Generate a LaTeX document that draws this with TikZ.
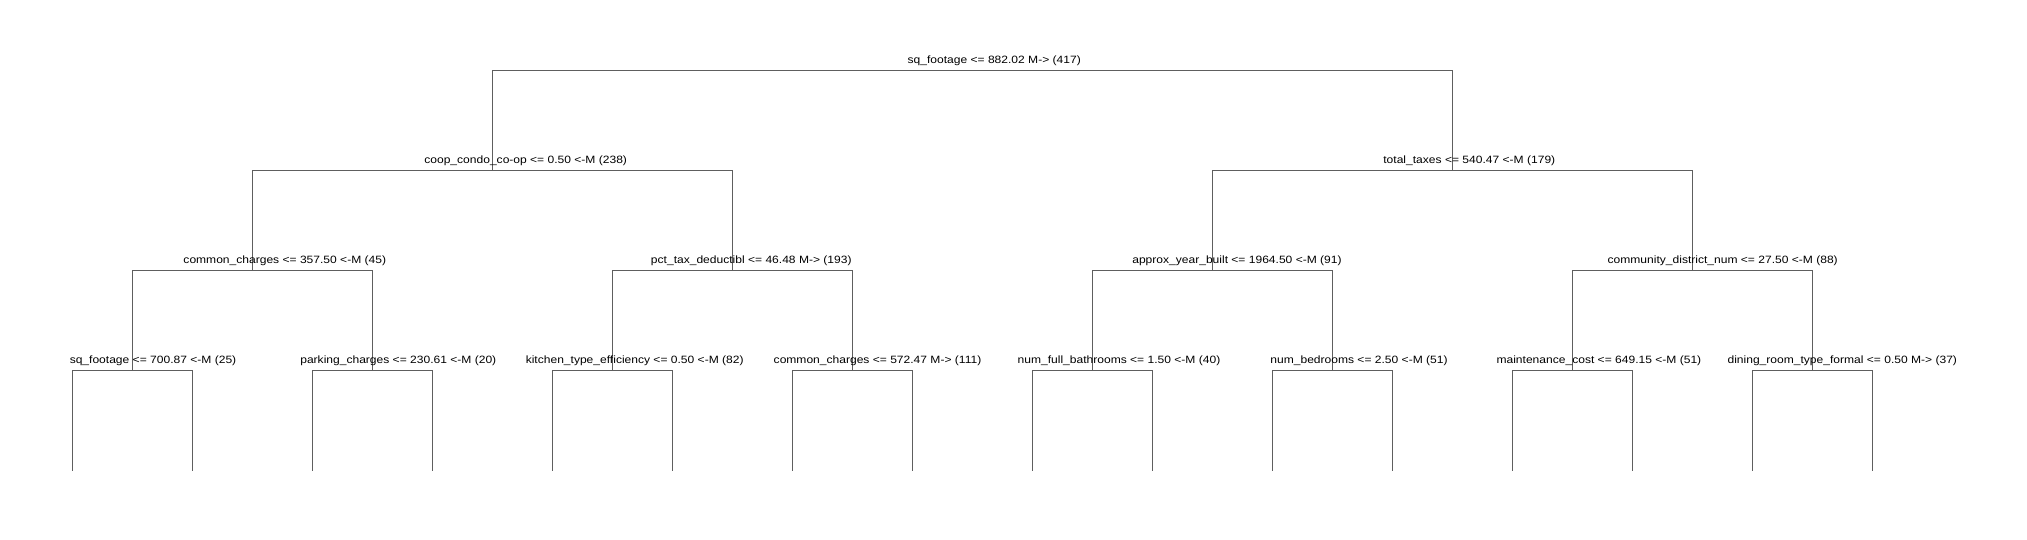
\documentclass[tikz,border=0pt]{standalone}
\usepackage{fontspec}
\setmainfont{Liberation Sans}[FakeStretch=1.137]
\begin{document}
\begin{tikzpicture}[x=1pt,y=-1pt,
  edge/.style={draw=black!63,line width=1pt},
  lbl/.style={anchor=base,inner sep=0pt,font=\fontsize{10.6}{12}\selectfont,text=black}]
\useasboundingbox[fill=white] (0,0) rectangle (2027,540);
% split points
\coordinate (r) at (972.3,70.3);
\coordinate (a) at (492.3,170.3);
\coordinate (b) at (1452.3,170.3);
\coordinate (aa) at (252.3,270.3);
\coordinate (ab) at (732.3,270.3);
\coordinate (ba) at (1212.3,270.3);
\coordinate (bb) at (1692.3,270.3);
\coordinate (aaa) at (132.3,370.3);
\coordinate (aab) at (372.3,370.3);
\coordinate (aba) at (612.3,370.3);
\coordinate (abb) at (852.3,370.3);
\coordinate (baa) at (1092.3,370.3);
\coordinate (bab) at (1332.3,370.3);
\coordinate (bba) at (1572.3,370.3);
\coordinate (bbb) at (1812.3,370.3);
% leaves
\foreach \i in {0,...,15} {\coordinate (l\i) at ({72.3+120*\i},471);}
% edges
\draw[edge] (r) -| (a);  \draw[edge] (r) -| (b);
\draw[edge] (a) -| (aa); \draw[edge] (a) -| (ab);
\draw[edge] (b) -| (ba); \draw[edge] (b) -| (bb);
\draw[edge] (aa) -| (aaa); \draw[edge] (aa) -| (aab);
\draw[edge] (ab) -| (aba); \draw[edge] (ab) -| (abb);
\draw[edge] (ba) -| (baa); \draw[edge] (ba) -| (bab);
\draw[edge] (bb) -| (bba); \draw[edge] (bb) -| (bbb);
\draw[edge] (aaa) -| (l0);  \draw[edge] (aaa) -| (l1);
\draw[edge] (aab) -| (l2);  \draw[edge] (aab) -| (l3);
\draw[edge] (aba) -| (l4);  \draw[edge] (aba) -| (l5);
\draw[edge] (abb) -| (l6);  \draw[edge] (abb) -| (l7);
\draw[edge] (baa) -| (l8);  \draw[edge] (baa) -| (l9);
\draw[edge] (bab) -| (l10); \draw[edge] (bab) -| (l11);
\draw[edge] (bba) -| (l12); \draw[edge] (bba) -| (l13);
\draw[edge] (bbb) -| (l14); \draw[edge] (bbb) -| (l15);
% labels
\node[lbl] (tr) at (994.2,63.3) {sq\_footage <= 882.02 M-> (417)};
\node[lbl] (ta) at (525.7,163.3) {coop\_condo\_co-op <= 0.50 <-M (238)};
\node[lbl] (tb) at (1469.3,163.3) {total\_taxes <= 540.47 <-M (179)};
\node[lbl] (taa) at (284.8,263.3) {common\_charges <= 357.50 <-M (45)};
\node[lbl] (tab) at (751.3,263.3) {pct\_tax\_deductibl <= 46.48 M-> (193)};
\node[lbl] (tba) at (1237,263.3) {approx\_year\_built <= 1964.50 <-M (91)};
\node[lbl] (tbb) at (1722.7,263.3) {community\_district\_num <= 27.50 <-M (88)};
\node[lbl] (taaa) at (153.0,363.3) {sq\_footage <= 700.87 <-M (25)};
\node[lbl] (taab) at (398.3,363.3) {parking\_charges <= 230.61 <-M (20)};
\node[lbl] (taba) at (634.7,363.3) {kitchen\_type\_efficiency <= 0.50 <-M (82)};
\node[lbl] (tabb) at (877.5,363.3) {common\_charges <= 572.47 M-> (111)};
\node[lbl] (tbaa) at (1119,363.3) {num\_full\_bathrooms <= 1.50 <-M (40)};
\node[lbl] (tbab) at (1359,363.3) {num\_bedrooms <= 2.50 <-M (51)};
\node[lbl] (tbba) at (1598.9,363.3) {maintenance\_cost <= 649.15 <-M (51)};
\node[lbl] (tbbb) at (1842.3,363.3) {dining\_room\_type\_formal <= 0.50 M-> (37)};
\end{tikzpicture}
\end{document}
